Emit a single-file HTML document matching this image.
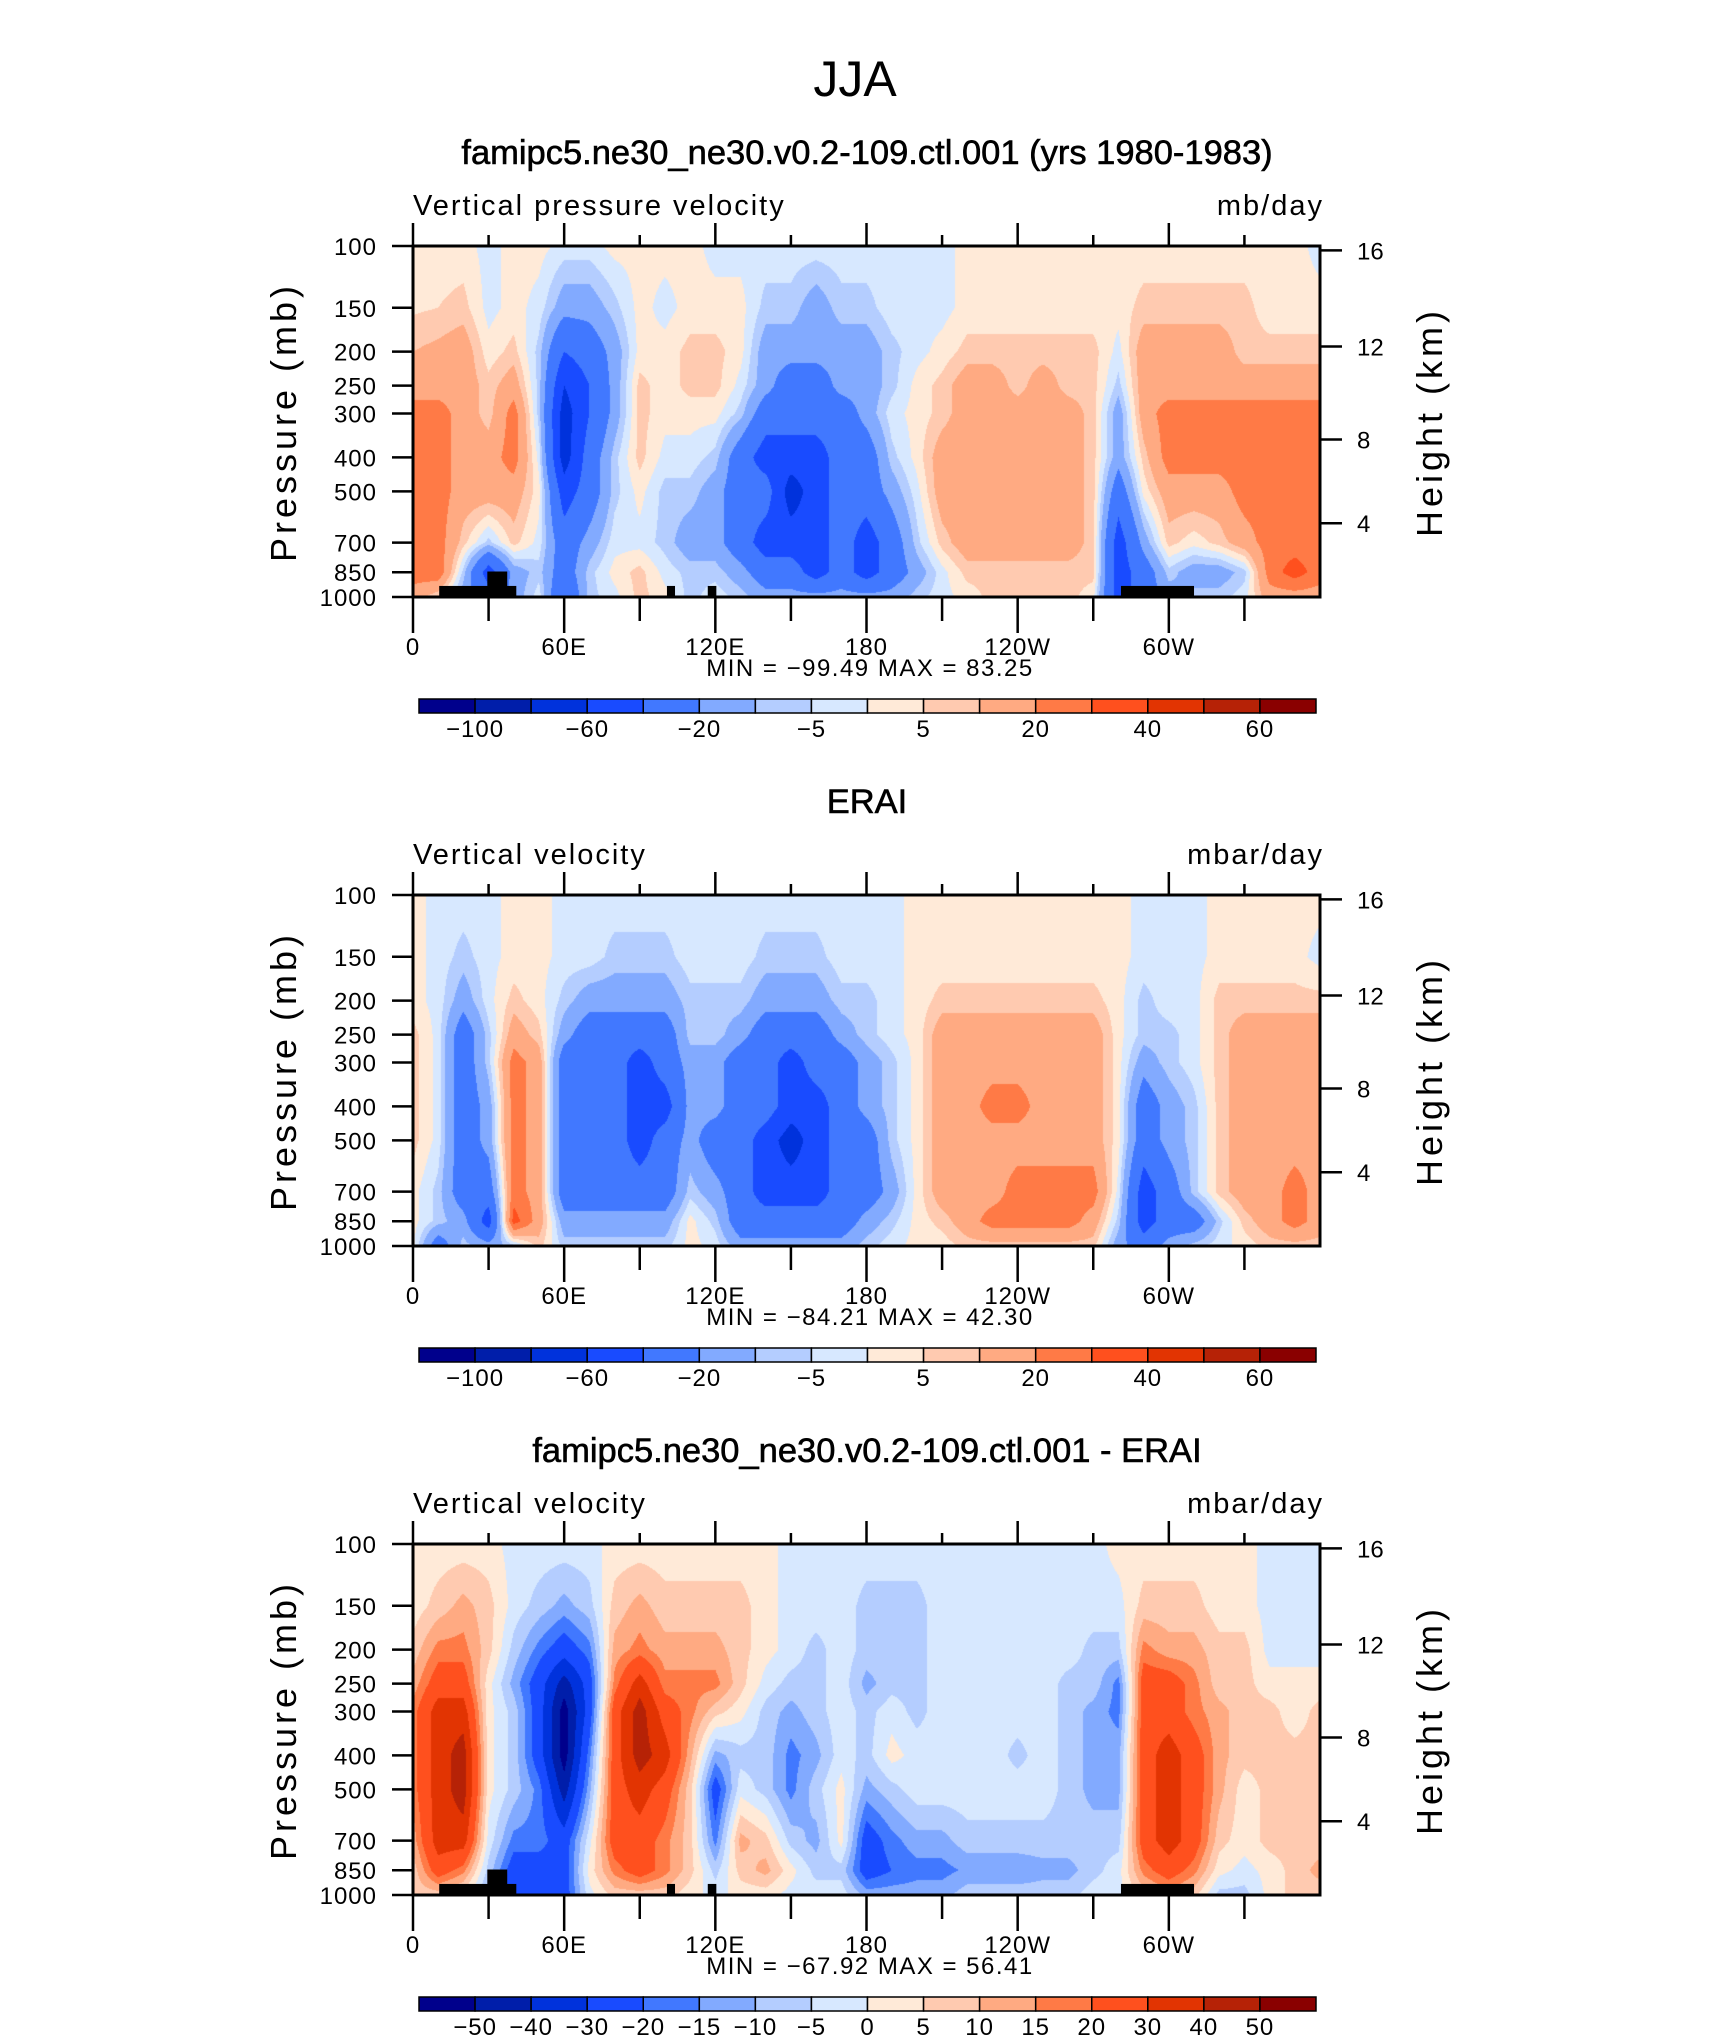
<!DOCTYPE html>
<html><head><meta charset="utf-8">
<style>
html,body{margin:0;padding:0;background:#fff;}
#wrap{position:relative;width:1710px;height:2038px;overflow:hidden;background:#fff;}
canvas{position:absolute;}
svg{position:absolute;left:0;top:0;}
text{font-family:"Liberation Sans","DejaVu Sans",sans-serif;fill:#000;}
</style></head>
<body>
<div id="wrap">
<canvas id="c0"></canvas>
<canvas id="c1"></canvas>
<canvas id="c2"></canvas>
<svg id="ov" width="1710" height="2038"></svg>
</div>
<script>
// ---------- data ----------
const lons = [0,10,20,30,40,50,60,70,80,90,100,110,120,130,140,150,160,170,180,190,200,210,220,230,240,250,260,270,280,290,300,310,320,330,340,350,360];
const pLevels = [100,150,200,250,300,400,500,700,850,1000];
const pTicks = [100,150,200,250,300,400,500,700,850,1000];
const hTicks = [16,12,8,4];
const lonTicks = [0,60,120,180,240,300];
const lonTickLabels = ['0','60E','120E','180','120W','60W'];
const field1 = [
[2,4,10,15,25,25,25,25,25,15],[2,5,12,15,25,25,25,25,28,5],[2,7,15,15,15,15,15,7,-7,-15],[-2,-2,2,7,7,15,15,-7,-50,-30],
[2,2,7,15,25,25,15,7,-15,-15],[2,-2,-7,-7,-7,-2,2,-2,-7,-2],[-2,-15,-40,-60,-70,-70,-50,-30,-30,-40],[-2,-15,-30,-40,-40,-30,-30,-15,-7,-7],
[2,-7,-15,-15,-15,-7,-7,-2,2,-2],[2,2,2,7,7,7,2,-2,7,7],[2,-2,2,2,2,-2,-7,-7,-2,2],[2,2,7,7,2,-2,-7,-15,-7,-7],
[-2,2,7,7,2,-7,-15,-15,-7,-2],[-2,2,2,-2,-7,-30,-30,-30,-15,-7],[-2,-7,-15,-15,-30,-50,-30,-50,-30,-15],[-2,-7,-15,-30,-30,-50,-70,-50,-30,-15],
[-2,-15,-15,-30,-30,-50,-50,-50,-50,-15],[-2,-7,-15,-15,-30,-30,-30,-30,-30,-15],[-2,-7,-15,-15,-15,-30,-30,-50,-50,-15],[-2,-2,-7,-7,-2,-7,-15,-30,-30,-15],
[-2,-2,-2,2,2,2,-2,-7,-15,-7],[-2,-2,2,7,7,15,15,7,-2,-2],[2,2,7,15,15,15,15,15,7,2],[2,2,7,15,15,15,15,15,7,7],
[2,2,7,7,15,15,15,15,7,7],[2,2,7,15,15,15,15,15,7,7],[2,2,7,7,15,15,15,15,7,7],[2,2,7,7,7,7,7,7,7,2],
[2,2,-2,-7,-15,-15,-30,-50,-50,-50],[2,7,15,15,15,7,2,-15,-30,-30],[2,7,15,15,25,25,15,7,-7,-15],[2,7,15,15,25,25,15,2,-15,-7],
[2,7,15,15,25,25,15,7,-15,-7],[2,7,7,15,25,25,25,15,-7,-2],[2,2,7,15,25,25,25,25,25,15],[2,2,7,15,25,25,25,25,35,15],
[-2,2,7,15,25,25,25,25,25,15]];
const field2 = [
[2,2,2,7,7,7,7,2,2,2],[-2,-2,-2,-2,-2,-2,-2,-7,-7,-30],[-2,-7,-15,-30,-30,-30,-30,-30,-15,-7],[-2,-2,-2,-7,-7,-15,-15,-30,-50,-15],
[2,2,7,15,25,25,25,25,35,-7],[2,2,2,7,15,15,15,15,15,7],[-2,-2,-7,-15,-30,-30,-30,-30,-15,-7],[-2,-2,-15,-30,-30,-30,-30,-30,-15,-7],
[-2,-7,-15,-30,-30,-30,-30,-30,-15,-7],[-2,-7,-15,-30,-50,-50,-50,-30,-15,-7],[-2,-7,-15,-30,-30,-50,-30,-30,-15,-7],[-2,-2,-7,-7,-15,-15,-15,-7,2,2],
[-2,-2,-7,-7,-15,-15,-30,-15,-7,-2],[-2,-2,-7,-15,-30,-30,-30,-30,-30,-15],[-2,-7,-15,-30,-30,-30,-50,-50,-30,-15],[-2,-7,-15,-30,-50,-50,-70,-50,-30,-15],
[-2,-7,-15,-30,-30,-50,-50,-50,-30,-15],[-2,-2,-7,-15,-30,-30,-30,-30,-30,-15],[-2,-2,-7,-7,-15,-15,-30,-30,-15,-7],[-2,-2,-2,-2,-7,-7,-7,-15,-7,-2],
[2,2,2,2,2,2,2,2,2,2],[2,2,7,15,15,15,15,15,7,2],[2,2,7,15,15,15,15,15,15,7],[2,2,7,15,15,25,15,15,25,7],
[2,2,7,15,15,25,15,25,25,7],[2,2,7,15,15,15,15,25,25,7],[2,2,7,15,15,15,15,25,25,7],[2,2,7,15,15,15,15,25,15,7],
[2,2,2,2,2,2,2,-2,-7,-15],[-2,-2,-7,-7,-15,-30,-30,-50,-50,-30],[-2,-2,-2,-7,-7,-15,-15,-30,-30,-15],[-2,-2,-2,-2,-2,-7,-7,-7,-30,-7],
[2,2,7,7,7,7,7,7,-7,-2],[2,2,7,15,15,15,15,15,7,2],[2,2,7,15,15,15,15,15,15,7],[2,2,7,15,15,15,15,25,25,7],
[2,-2,7,15,15,15,15,15,15,7]];
const field3 = [
[2,2,7,12,17,17,17,12,7,7],[2,7,17,25,35,35,35,35,25,7],[2,12,17,25,35,45,45,35,17,2],[2,7,7,2,2,2,2,-2,-7,-12],
[-2,-2,-7,-12,-7,-7,-7,-17,-25,-25],[-2,-7,-17,-25,-25,-25,-17,-17,-25,-25],[-2,-12,-25,-45,-55,-55,-45,-25,-25,-25],[-2,-7,-17,-25,-25,-17,-12,-2,2,-2],
[2,7,12,17,25,25,25,25,17,7],[2,12,17,35,45,45,35,25,25,7],[2,7,12,17,25,35,25,17,17,7],[2,7,12,17,17,12,7,7,7,2],
[2,7,12,17,7,-12,-25,-17,-7,-2],[2,7,7,7,2,-7,-2,12,7,2],[2,2,2,-2,-7,-7,-7,7,12,2],[-2,-2,-2,-7,-12,-17,-17,-7,2,-2],
[-2,-2,-7,-7,-7,-12,-7,-12,-7,-2],[-2,-2,-2,-2,-2,-2,2,2,-7,-2],[-2,-7,-7,-12,-7,-7,-12,-25,-25,-12],[-2,-7,-7,-7,-2,2,-7,-17,-20,-12],
[-2,-7,-7,-7,-7,-2,-2,-12,-17,-12],[-2,-2,-2,-2,-2,-2,-2,-12,-17,-12],[-2,-2,-2,-2,-2,-2,-2,-7,-14,-7],[-2,-2,-2,-2,-2,-2,-2,-7,-14,-7],
[-2,-2,-2,-2,-2,-7,-2,-7,-14,-7],[-2,-2,-2,-2,-2,-2,-2,-7,-12,-7],[-2,-2,-2,-7,-7,-7,-7,-7,-12,-7],[-2,-2,-7,-7,-12,-12,-12,-7,-7,-2],
[2,-2,-7,-17,-17,-12,-12,-7,-2,-2],[2,7,17,25,25,25,25,25,17,7],[2,7,12,25,25,35,35,35,25,12],[2,7,12,17,17,25,25,25,17,7],
[2,2,7,7,12,12,12,7,2,-7],[2,2,7,7,7,7,2,2,-2,-7],[-2,-2,-2,2,7,7,7,7,2,2],[-2,-2,-2,2,2,7,7,7,7,7],
[-2,-2,-2,2,7,7,7,7,12,7]];
const levels12 = [-100,-80,-60,-40,-20,-10,-5,0,5,10,20,30,40,50,60];
const levels3 = [-50,-40,-30,-20,-15,-10,-5,0,5,10,15,20,30,40,50];
const cbLabels12 = ['-100','','-60','','-20','','-5','','5','','20','','40','','60'];
const cbLabels3 = ['-50','-40','-30','-20','-15','-10','-5','0','5','10','15','20','30','40','50'];
const landLon0 = [10.4,29.5,100.8,117,281];
const landLon1 = [41,37.4,104,120.4,310];
const landTopP = [930,846,930,930,930];
const titles = ['famipc5.ne30_ne30.v0.2-109.ctl.001 (yrs 1980-1983)','ERAI','famipc5.ne30_ne30.v0.2-109.ctl.001 - ERAI'];
const varNames = ['Vertical pressure velocity','Vertical velocity','Vertical velocity'];
const units = ['mb/day','mbar/day','mbar/day'];
const minVals = ['-99.49','-84.21','-67.92'];
const maxVals = ['83.25','42.30','56.41'];
// ---------- style ----------
const palette = [[0,0,140],[0,30,170],[0,50,220],[25,75,255],[65,120,255],[130,170,255],[180,205,255],[215,232,255],
[255,234,216],[255,202,176],[255,170,130],[255,122,70],[255,80,30],[226,52,2],[182,34,6],[138,0,0]];
const PX0=413, PX1=1320, PY0=246, PH=351, DY=649;
function xScale(lon){return PX0 + lon/360*(PX1-PX0);}
function yScale(p, k){return PY0 + k*DY + PH*Math.log10(p/100);}
const NS='http://www.w3.org/2000/svg';
const ov=document.getElementById('ov');
function el(tag, attrs, txt){const e=document.createElementNS(NS,tag);for(const a in attrs)e.setAttribute(a,attrs[a]);if(txt!==undefined)e.textContent=txt;ov.appendChild(e);return e;}
function zToP(zkm){const z=zkm*1000; if(z<=11000) return 1013.25*Math.pow(1-2.25577e-5*z,5.25588); return 226.32*Math.exp(-(z-11000)/6341.6);}
function classOf(v, lev){let c=0;while(c<lev.length&&v>=lev[c])c++;return c;}
function sample(field, lon, p){
  let fi=lon/10; let i=Math.min(Math.floor(fi),35); let fx=fi-i;
  const lp=Math.log10(p); let j=0; while(j<8 && Math.log10(pLevels[j+1])<lp) j++;
  const l0=Math.log10(pLevels[j]), l1=Math.log10(pLevels[j+1]); let fy=(lp-l0)/(l1-l0); fy=Math.max(0,Math.min(1,fy));
  const a=field[i][j], b=field[i+1][j], c=field[i][j+1], d=field[i+1][j+1];
  return (a*(1-fx)+b*fx)*(1-fy)+(c*(1-fx)+d*fx)*fy;
}
const fields=[field1,field2,field3];
const levs=[levels12,levels12,levels3];
const cbl=[cbLabels12,cbLabels12,cbLabels3];
for(let k=0;k<3;k++){
  const cv=document.getElementById('c'+k);
  const W=PX1-PX0, H=PH;
  cv.width=W; cv.height=H; cv.style.left=PX0+'px'; cv.style.top=(PY0+k*DY)+'px';
  const ctx=cv.getContext('2d'); const img=ctx.createImageData(W,H);
  for(let py=0;py<H;py++){
    const p=100*Math.pow(10,(py+0.5)/H);
    for(let px=0;px<W;px++){
      const lon=(px+0.5)/W*360;
      const col=palette[classOf(sample(fields[k],lon,p),levs[k])];
      const o=(py*W+px)*4; img.data[o]=col[0];img.data[o+1]=col[1];img.data[o+2]=col[2];img.data[o+3]=255;
    }
  }
  ctx.putImageData(img,0,0);
  const oy=k*DY;
  if(k!==1){
    for(let m=0;m<landLon0.length;m++){
      const r=el('rect',{x:xScale(landLon0[m]),y:yScale(landTopP[m],k),width:xScale(landLon1[m])-xScale(landLon0[m]),height:yScale(1000,k)-yScale(landTopP[m],k),fill:'#000'});
      
      
    }
  }
  const t=el('text',{x:867,y:164+oy,'text-anchor':'middle','font-size':34.5,'stroke':'#000','stroke-width':0.6},titles[k]);
  
  
  const vn=el('text',{x:413,y:215+oy,'font-size':29,'letter-spacing':'2'},varNames[k]);
  
  
  const un=el('text',{x:1324,y:215+oy,'text-anchor':'end','font-size':29,'letter-spacing':'2'},units[k]);
  
  
  const fr=el('rect',{x:PX0,y:PY0+oy,width:PX1-PX0,height:PH,fill:'none',stroke:'#000','stroke-width':3});
  
  
  for(let lon=0;lon<360;lon+=30){
    const major=lon%60===0; const x=xScale(lon);
    el('line',{x1:x,x2:x,y1:PY0+oy-(major?23:11),y2:PY0+oy,stroke:'#000','stroke-width':2.5});
    el('line',{x1:x,x2:x,y1:PY0+PH+oy,y2:PY0+PH+oy+(major?36:24),stroke:'#000','stroke-width':2.5});
  }
  for(let m=0;m<lonTicks.length;m++){
    const tl=el('text',{x:xScale(lonTicks[m]),y:655+oy,'text-anchor':'middle','font-size':24,'letter-spacing':'1'},lonTickLabels[m]);
    
    
  }
  for(const p of pTicks){
    const y=yScale(p,k);
    el('line',{x1:PX0-21,x2:PX0,y1:y,y2:y,stroke:'#000','stroke-width':2.5});
    const yl=el('text',{x:PX0-36,y:y+9,'text-anchor':'end','font-size':24,'letter-spacing':'1'},String(p));
    
    
  }
  for(const h of hTicks){
    const y=yScale(zToP(h),k);
    el('line',{x1:PX1,x2:PX1+22,y1:y,y2:y,stroke:'#000','stroke-width':2.5});
    const hl=el('text',{x:PX1+37,y:y+9,'font-size':24},String(h));
    
    
  }
  const ya=el('text',{x:0,y:0,'text-anchor':'middle','font-size':36,'letter-spacing':'4',transform:`translate(296,${422+oy}) rotate(-90)`},'Pressure (mb)');
  
  
  const ha=el('text',{x:0,y:0,'text-anchor':'middle','font-size':36,'letter-spacing':'4',transform:`translate(1442,${422+oy}) rotate(-90)`},'Height (km)');
  
  
  const mm=el('text',{x:870,y:676+oy,'text-anchor':'middle','font-size':24,'letter-spacing':'1.5','xml:space':'preserve'},'MIN = '+minVals[k].replace('-','\u2212')+'   MAX =  '+maxVals[k]);
  
  
  const cb0=419, cb1=1316, cbw=(cb1-cb0)/16, cby=699+oy;
  for(let c=0;c<16;c++){
    const r=el('rect',{x:cb0+c*cbw,y:cby,width:cbw,height:14,fill:`rgb(${palette[c].join(',')})`,stroke:'#000','stroke-width':1.5});
    
    
  }
  for(let b=0;b<15;b++){
    if(!cbl[k][b]) continue;
    const lt=el('text',{x:cb0+(b+1)*cbw,y:737+oy,'text-anchor':'middle','font-size':24,'letter-spacing':'1'},cbl[k][b].replace('-','\u2212'));
    
    
  }
}
const sup=el('text',{x:855,y:96,'text-anchor':'middle','font-size':50},'JJA');


</script>
</body></html>
